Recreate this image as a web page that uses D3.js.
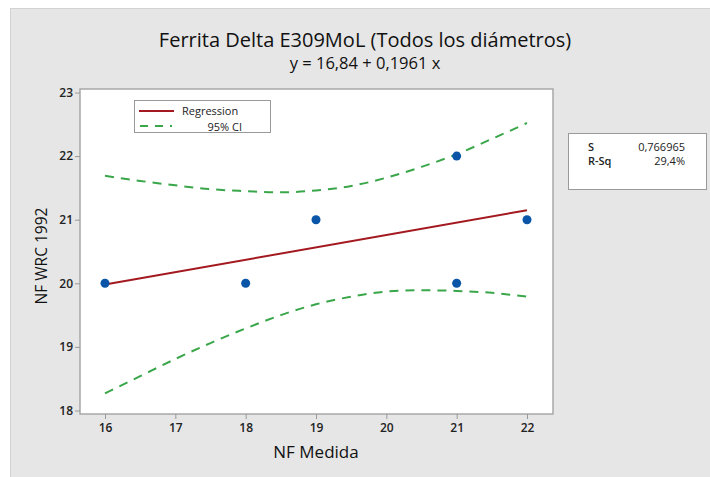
<!DOCTYPE html>
<html><head><meta charset="utf-8">
<script src="https://cdn.jsdelivr.net/npm/d3@7"></script>
<style>
html,body{margin:0;padding:0;background:#fff;}
svg{display:block;}
text{font-family:"Open Sans","Noto Sans",sans-serif;}
</style></head><body>
<script>
const title = "Ferrita Delta E309MoL (Todos los diámetros)";
const subtitle = "y = 16,84 + 0,1961 x";
const xLabel = "NF Medida";
const yLabel = "NF WRC 1992";
const xTicks = [16,17,18,19,20,21,22];
const yTicks = [18,19,20,21,22,23];
// observed points
const obsX = [16,18,19,21,21,22];
const obsY = [20,20,21,22,20,21];
// regression line
const regX = [16,22];
const regY = [19.98,21.15];
// 95% CI bands
const ciX =     [16,   16.5, 17,   17.5, 18,   18.5, 19,   19.5, 20,   20.5, 21,   21.5, 22];
const ciUpper = [21.69,21.61,21.54,21.48,21.45,21.43,21.46,21.53,21.66,21.83,22.03,22.27,22.52];
const ciLower = [18.27,18.54,18.81,19.06,19.29,19.50,19.67,19.79,19.87,19.89,19.88,19.85,19.79];
const legendLabels = ["Regression","95% CI"];
const statNames = ["S","R-Sq"];
const statValues = ["0,766965","29,4%"];

const W=710,H=477;
const svg=d3.select("body").append("svg").attr("width",W).attr("height",H);
svg.append("rect").attr("x",0).attr("y",0).attr("width",W).attr("height",H).attr("fill","#fff");
svg.append("rect").attr("x",10.5).attr("y",8.5).attr("width",W).attr("height",H).attr("fill","#e6e6e6").attr("stroke","#d2d2d2");

const pl=80,pr=553,pt=89,pb=414;
const x=d3.scaleLinear().domain([16,22]).range([105,527]);
const y=d3.scaleLinear().domain([18,23]).range([410.5,92.5]);

svg.append("rect").attr("x",pl).attr("y",pt).attr("width",pr-pl).attr("height",pb-pt)
  .attr("fill","#fff").attr("stroke","#a8a8a8").attr("stroke-width",1.5);

const gx=svg.append("g").attr("transform",`translate(0,${pb})`)
  .call(d3.axisBottom(x).tickValues(xTicks).tickFormat(d3.format("d")).tickSize(5).tickSizeOuter(0));
const gy=svg.append("g").attr("transform",`translate(${pl},0)`)
  .call(d3.axisLeft(y).tickValues(yTicks).tickFormat(d3.format("d")).tickSize(5).tickSizeOuter(0));
[gx,gy].forEach(g=>{
  g.select(".domain").remove();
  g.selectAll(".tick line").attr("stroke","#999");
  g.selectAll(".tick text").attr("fill","#222").attr("font-size","12px").attr("font-weight","600")
   .style("font-family",'"Open Sans",sans-serif');
});
gx.selectAll(".tick text").attr("dy","0.71em").attr("y",9);
gy.selectAll(".tick text").attr("x",-7);

const line=d3.line().x(d=>x(d[0])).y(d=>y(d[1])).curve(d3.curveMonotoneX);
svg.append("path").datum(ciX.map((v,i)=>[v,ciUpper[i]])).attr("d",line)
  .attr("fill","none").attr("stroke","#3aa64a").attr("stroke-width",2).attr("stroke-dasharray","9,7");
svg.append("path").datum(ciX.map((v,i)=>[v,ciLower[i]])).attr("d",line)
  .attr("fill","none").attr("stroke","#3aa64a").attr("stroke-width",2).attr("stroke-dasharray","9,7");
svg.append("path").datum(regX.map((v,i)=>[v,regY[i]])).attr("d",d3.line().x(d=>x(d[0])).y(d=>y(d[1])))
  .attr("fill","none").attr("stroke","#a3191f").attr("stroke-width",2);

svg.selectAll("circle.pt").data(obsX.map((v,i)=>[v,obsY[i]])).enter().append("circle")
  .attr("class","pt").attr("cx",d=>x(d[0])).attr("cy",d=>y(d[1])).attr("r",4.5).attr("fill","#0a55a8");

// title
svg.append("text").attr("x",365).attr("y",47).attr("text-anchor","middle").attr("font-size","20px")
  .attr("fill","#111").text(title);
svg.append("text").attr("x",365).attr("y",69).attr("text-anchor","middle").attr("font-size","16.5px")
  .attr("fill","#111").text(subtitle);
// axis titles
svg.append("text").attr("x",316).attr("y",458).attr("text-anchor","middle").attr("font-size","17px")
  .attr("fill","#111").text(xLabel);
svg.append("text").attr("transform","translate(47,256) rotate(-90)").attr("text-anchor","middle")
  .attr("font-size","15.5px").attr("fill","#111").text(yLabel);

// legend
const lg=svg.append("g");
lg.append("rect").attr("x",134.5).attr("y",100.5).attr("width",136).attr("height",32)
  .attr("fill","#fff").attr("stroke","#999");
lg.append("line").attr("x1",139).attr("x2",174).attr("y1",111).attr("y2",111).attr("stroke","#a3191f").attr("stroke-width",2);
lg.append("line").attr("x1",140).attr("x2",172).attr("y1",126).attr("y2",126).attr("stroke","#3aa64a").attr("stroke-width",2).attr("stroke-dasharray","8,7");
lg.append("text").attr("x",182).attr("y",115).attr("font-size","11px").attr("fill","#222").text(legendLabels[0]);
lg.append("text").attr("x",242).attr("y",131).attr("text-anchor","end").attr("font-size","11px").attr("fill","#222").text(legendLabels[1]);

// stats box
const sg=svg.append("g");
sg.append("rect").attr("x",568.5).attr("y",133.5).attr("width",138).attr("height",56).attr("fill","#fff").attr("stroke","#999");
statNames.forEach((n,i)=>{
  sg.append("text").attr("x",588).attr("y",151+i*14).attr("font-size","11px").attr("font-weight","600").attr("fill","#222").text(n);
  sg.append("text").attr("x",685).attr("y",151+i*14).attr("text-anchor","end").attr("font-size","11px").attr("fill","#222").text(statValues[i]);
});
</script>
</body></html>
